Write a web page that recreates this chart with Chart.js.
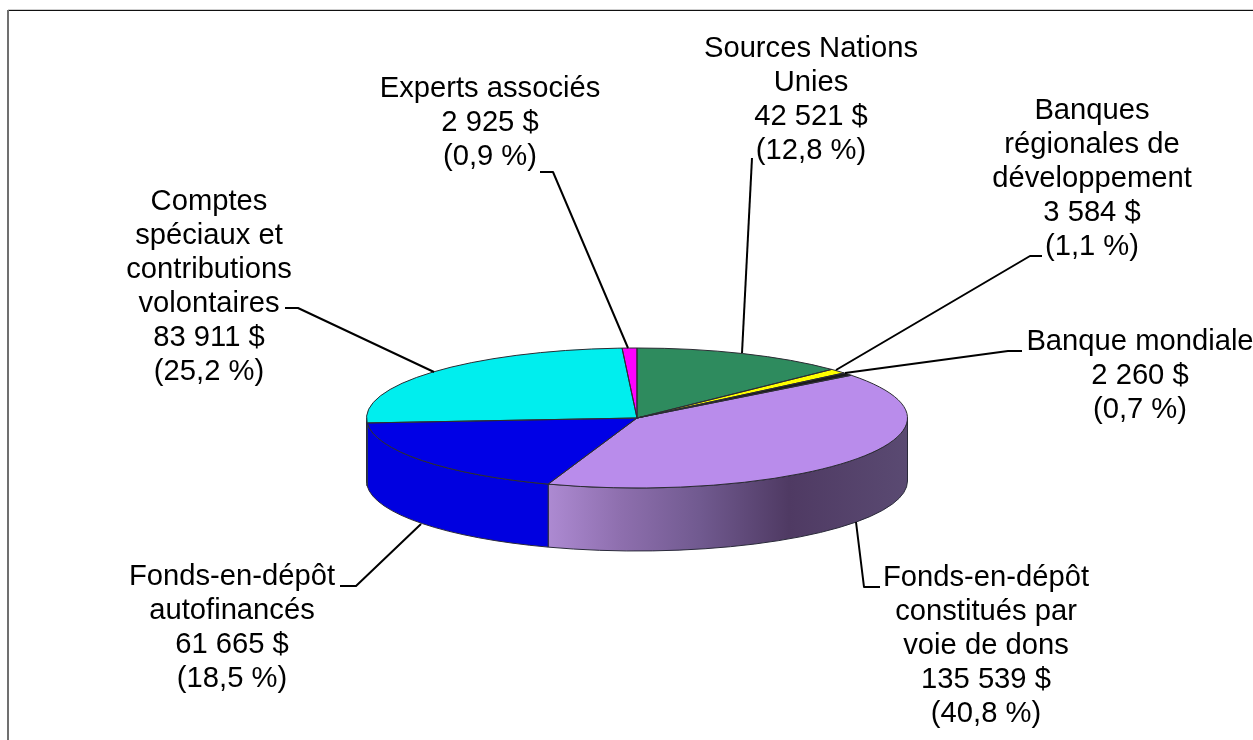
<!DOCTYPE html>
<html lang="fr">
<head>
<meta charset="utf-8">
<title>Sources de financement</title>
<script src="https://cdn.jsdelivr.net/npm/chart.js@4/dist/chart.umd.min.js"></script>
<style>
html,body{margin:0;padding:0;background:#fff;overflow:hidden}
canvas{display:block}
</style>
</head>
<body>
<canvas id="c" width="1253" height="740"></canvas>
<script>
// ---- data ----
const categories = [
  ["Sources Nations", "Unies"],
  ["Banques", "régionales de", "développement"],
  ["Banque mondiale"],
  ["Fonds-en-dépôt", "constitués par", "voie de dons"],
  ["Fonds-en-dépôt", "autofinancés"],
  ["Comptes", "spéciaux et", "contributions", "volontaires"],
  ["Experts associés"]
];
const amounts = [42521, 3584, 2260, 135539, 61665, 83911, 2925];
const percents = ["12,8", "1,1", "0,7", "40,8", "18,5", "25,2", "0,9"];
const colors = ["#2e8b5e", "#ffff00", "#1a1a1a", "#b98ceb", "#0000e6", "#00eeee", "#ff00ff"];

// ---- styling and layout ----
const CX = 637, CY = 418, R = 270.5, RY = 70, DEPTH = 63;
const FONT = '29.2px "Liberation Sans", Arial, sans-serif';
const LINE = 34;
const labelPos = [
  {x: 811, y: 49},
  {x: 1092, y: 111},
  {x: 1140, y: 342},
  {x: 986, y: 578},
  {x: 232, y: 577},
  {x: 209, y: 202},
  {x: 490, y: 89}
];
const leaders = [
  [[752,158],[742,353]],
  [[1042,256],[1030,256],[836,370]],
  [[1022,351],[1008,351],[845,373]],
  [[880,587],[864,587],[856,522]],
  [[340,586],[356,586],[421,524]],
  [[285,308],[298,308],[434,372]],
  [[540,172],[553,172],[628,348]]
];
const purpleWall = [[0,"#ad8ad2"],[0.2,"#8e6fae"],[0.42,"#715a90"],[0.67,"#4f3a63"],[1,"#5a4a72"]];

const fmt = n => String(n).replace(/\B(?=(\d{3})+$)/g, " ") + " $";

function wallPath(ctx, a0, a1) {
  ctx.beginPath();
  ctx.ellipse(CX, CY, R, RY, 0, a0, a1);
  ctx.ellipse(CX, CY + DEPTH, R, RY, 0, a1, a0, true);
  ctx.closePath();
}

const pie3d = {
  id: "pie3d",
  beforeDatasetsDraw(chart) {
    const ctx = chart.ctx;
    const arcs = chart.getDatasetMeta(0).data;
    // front wall of the disc, taken from each slice's own angles
    arcs.forEach((arc, i) => {
      const a0 = Math.max(arc.startAngle, 0), a1 = Math.min(arc.endAngle, Math.PI);
      if (a1 <= a0) return;
      let fill = colors[i];
      if (i === 3) {
        const x0 = CX + R * Math.cos(a1), x1 = CX + R * Math.cos(a0);
        fill = ctx.createLinearGradient(x0, 0, x1, 0);
        purpleWall.forEach(s => fill.addColorStop(s[0], s[1]));
      } else if (i === 4) {
        fill = "#0000e0";
      }
      ctx.save();
      wallPath(ctx, a0, a1);
      ctx.fillStyle = fill;
      ctx.fill();
      ctx.strokeStyle = "#2a2a3a";
      ctx.lineWidth = 1;
      ctx.stroke();
      ctx.restore();
    });
    // squash the library's circular slices into the tilted top face
    ctx.save();
    const p = arcs[0];
    ctx.translate(p.x, p.y);
    ctx.scale(1, RY / p.outerRadius);
    ctx.translate(-p.x, -p.y);
  },
  afterDatasetsDraw(chart) {
    const ctx = chart.ctx;
    const arcs = chart.getDatasetMeta(0).data;
    ctx.restore();
    // slice outlines: path built squashed, stroked at an even width
    arcs.forEach((arc, i) => {
      ctx.save();
      ctx.translate(arc.x, arc.y);
      ctx.scale(1, RY / arc.outerRadius);
      ctx.beginPath();
      ctx.moveTo(0, 0);
      ctx.arc(0, 0, arc.outerRadius, arc.startAngle, arc.endAngle);
      ctx.closePath();
      ctx.restore();
      ctx.strokeStyle = "#2b2b33";
      ctx.lineWidth = 1;
      ctx.lineJoin = "round";
      ctx.stroke();
    });
    // leader lines
    ctx.save();
    ctx.strokeStyle = "#000";
    ctx.lineWidth = 2;
    leaders.forEach(pts => {
      ctx.beginPath();
      pts.forEach((p, k) => k ? ctx.lineTo(p[0], p[1]) : ctx.moveTo(p[0], p[1]));
      ctx.stroke();
    });
    // data labels
    ctx.fillStyle = "#000";
    ctx.font = FONT;
    ctx.textAlign = "center";
    ctx.textBaseline = "middle";
    categories.forEach((name, i) => {
      const lines = [...name, fmt(amounts[i]), "(" + percents[i] + " %)"];
      lines.forEach((t, k) => ctx.fillText(t, labelPos[i].x, labelPos[i].y + k * LINE));
    });
    // frame
    ctx.fillStyle = "#cfcfcf"; ctx.fillRect(8, 9, 1245, 1);
    ctx.fillStyle = "#111";    ctx.fillRect(8, 10, 1245, 1);
    ctx.fillStyle = "#707070"; ctx.fillRect(7, 10, 2, 730);
    ctx.restore();
  }
};

new Chart(document.getElementById("c"), {
  type: "pie",
  data: {
    labels: categories.map(c => c.join(" ")),
    datasets: [{ data: amounts, backgroundColor: colors, borderWidth: 0 }]
  },
  options: {
    responsive: false,
    animation: false,
    rotation: 0,
    events: [],
    layout: { padding: { left: CX - R, right: 1253 - CX - R, top: CY - R, bottom: 740 - CY - R } },
    plugins: { legend: { display: false }, tooltip: { enabled: false }, title: { display: false } }
  },
  plugins: [pie3d]
});
</script>
</body>
</html>
